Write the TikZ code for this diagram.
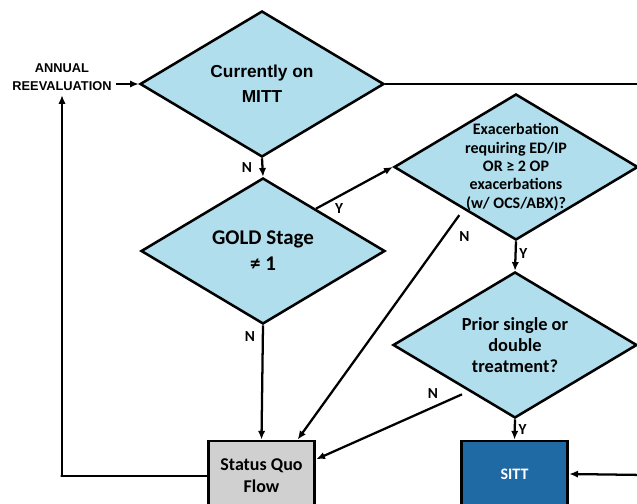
\documentclass[tikz,border=0pt]{standalone}
\usepackage{fontspec}
\setmainfont{Carlito}
\newfontfamily\arialfont{Liberation Sans}
\usetikzlibrary{positioning,arrows.meta,shapes.geometric,calc}

\definecolor{qblue}{RGB}{176,222,236}
\definecolor{sittblue}{RGB}{31,105,165}
\definecolor{sqgray}{RGB}{208,208,208}

\begin{document}
\begin{tikzpicture}[
  x=0.75pt, y=-0.75pt,
  decision/.style={draw, diamond, line width=1.9pt, fill=qblue, inner sep=0pt, minimum width=183pt, minimum height=109.5pt},
  dtext/.style={align=center, font=\bfseries\fontsize{11}{15}\selectfont},
  outcome/.style={draw, rectangle, line width=2.2pt, minimum width=80pt, minimum height=52.5pt, align=center, font=\bfseries\fontsize{13.5}{16.5}\selectfont},
  arr/.style={-{Latex[length=6.5pt,width=5.5pt]}, line width=1.7pt},
  link/.style={line width=1.7pt},
  yn/.style={font=\bfseries\fontsize{11.5}{13}\selectfont, inner sep=2pt}
]
\useasboundingbox (0,0) rectangle (637,504);
\clip (0,0) rectangle (637,504);

% decisions
\node[decision] (mitt) at (262,84) {};
\node[dtext, font=\arialfont\bfseries\fontsize{13}{19}\selectfont] (mittT) at (mitt) {Currently on\\MITT};
\node[decision] (gold) at (263,251) {};
\node[dtext, font=\bfseries\fontsize{15.7}{19.5}\selectfont] (goldT) at (gold) {GOLD Stage\\≠ 1};
\node[decision] (exac) at (516,167) {};
\node[dtext, font=\bfseries\fontsize{12}{13.75}\selectfont] (exacT) at (exac) {Exacerbation\\requiring ED/IP\\OR ≥ 2 OP\\exacerbations\\(w/ OCS/ABX)?};
\node[decision] (prior) at (515,345) {};
\node[dtext, font=\bfseries\fontsize{13.8}{15.5}\selectfont] (priorT) at (prior) {Prior single or\\double\\treatment?};

% outcomes
\node[outcome, fill=sqgray] (sq) at (261.5,476) {Status Quo\\Flow};
\node[outcome, fill=sittblue, text=white, minimum height=49.5pt, font=\bfseries\fontsize{12}{14}\selectfont] (sitt) at (514.5,474) {SITT};

\node[align=center, font=\arialfont\bfseries\fontsize{9.6}{13.5}\selectfont] (annual) at (62,77) {ANNUAL\\REEVALUATION};

\coordinate (offmitt) at (645,84);
\coordinate (offsitt) at (645,475);

\draw[arr] (annual.east |- mitt.west) -- (mitt.west);
\draw[link] (mitt.east) -- (offmitt);
\draw[arr] (mitt.south) -- node[yn, left, xshift=-5pt] {N} (gold.north);
\draw[arr] ($(gold.north)!0.43!(gold.east)$) -- node[yn, pos=0.3, below, yshift=-3pt] {Y} (exac.west);
\draw[arr] (gold.south) -- node[yn, pos=0.1, left, xshift=-3pt] {N} (sq.north);
\draw[arr] ($(exac.west)!0.54!(exac.south)+(0,8)$) -- node[yn, pos=0.04, right, xshift=2pt, yshift=-9pt] {N} ($(sq.north)!0.66!(sq.north east)$);
\draw[arr] (exac.south) -- node[yn, right, yshift=2pt] {Y} (prior.north);
\draw[arr] ($(prior.west)!0.57!(prior.south)+(0,7)$) -- node[yn, pos=0.2, above, yshift=4pt] {N} ($(sq.north east)!0.27!(sq.south east)$);
\draw[arr] (prior.south) -- node[yn, right] {Y} (sitt.north);
\draw[arr] (offsitt) -- (sitt.east);
\draw[arr] (sq.west) -- ++(-146,0) -| (annual.south);
\end{tikzpicture}
\end{document}
